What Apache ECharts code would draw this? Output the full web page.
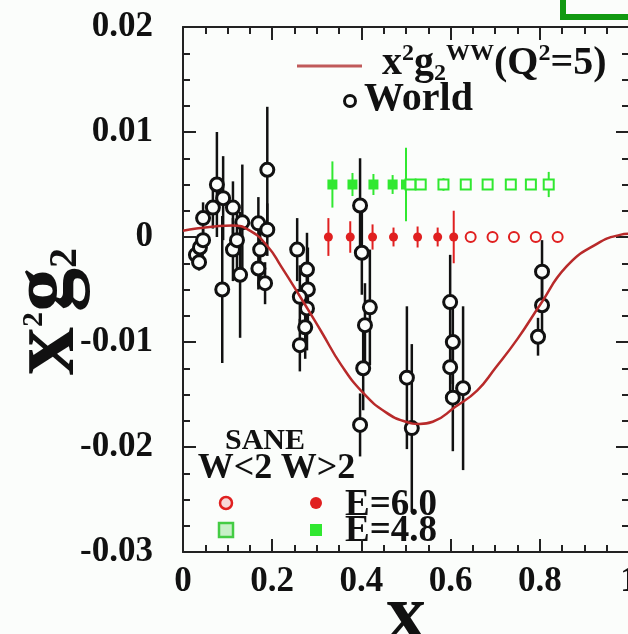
<!DOCTYPE html>
<html>
<head>
<meta charset="utf-8">
<script src="https://cdn.jsdelivr.net/npm/echarts@6/dist/echarts.min.js"></script>
<style>
  html, body { margin: 0; padding: 0; background: #fbfdfb; }
  #chart { width: 628px; height: 634px; }
</style>
</head>
<body>
<div id="chart"></div>
<script>
// World data: x, x^2 g2, error
const worldX = [0.029, 0.036, 0.038, 0.045, 0.045, 0.067, 0.076, 0.090, 0.088, 0.112, 0.112, 0.121, 0.128, 0.133, 0.169, 0.173, 0.169, 0.184, 0.189, 0.189,
  0.256, 0.278, 0.280, 0.262, 0.278, 0.274, 0.262,
  0.397, 0.401, 0.419, 0.408, 0.404, 0.397, 0.502, 0.513,
  0.599, 0.605, 0.599, 0.628, 0.605,
  0.805, 0.805, 0.796];
const worldY = [-0.0017, -0.0024, -0.0010, -0.0003, 0.0018, 0.0028, 0.0050, 0.0037, -0.0050, 0.0028, -0.0012, -0.0003, -0.0036, 0.0014, 0.0013, -0.0012, -0.0030, -0.0044, 0.0007, 0.0064,
  -0.0012, -0.0031, -0.0050, -0.0057, -0.0068, -0.0086, -0.0103,
  0.0030, -0.0015, -0.0067, -0.0084, -0.0125, -0.0179, -0.0134, -0.0182,
  -0.0062, -0.0100, -0.0124, -0.0144, -0.0153,
  -0.0033, -0.0065, -0.0095];
const worldErr = [0.0008, 0.0008, 0.0010, 0.0012, 0.0015, 0.0020, 0.0050, 0.0040, 0.0070, 0.0025, 0.0030, 0.0030, 0.0060, 0.0055, 0.0025, 0.0030, 0.0020, 0.0020, 0.0025, 0.0060,
  0.0030, 0.0035, 0.0040, 0.0030, 0.0040, 0.0030, 0.0025,
  0.0045, 0.0040, 0.0055, 0.0040, 0.0040, 0.0030, 0.0068, 0.0080,
  0.0045, 0.0040, 0.0030, 0.0078, 0.0051,
  0.0030, 0.0035, 0.0018];

// x^2 g2^WW (Q^2 = 5)
const curveX = [0, 0.03, 0.07, 0.11, 0.15, 0.19, 0.22, 0.26, 0.31, 0.355, 0.405, 0.455, 0.50, 0.53, 0.56, 0.61, 0.66, 0.70, 0.75, 0.80, 0.86, 0.93, 0.98, 1.0];
const curveY = [0.0006, 0.0008, 0.0010, 0.0011, 0.0006, -0.0009, -0.0028, -0.0055, -0.0090, -0.0122, -0.0149, -0.0167, -0.0176, -0.0178, -0.0176, -0.0162, -0.0146, -0.0125, -0.0097, -0.0065, -0.0028, -0.0006, 0.0002, 0.0003];

// SANE projections
const sane60HighX = [0.326, 0.375, 0.425, 0.472, 0.526, 0.571, 0.607];
const sane60HighErr = [0.0018, 0.0015, 0.0012, 0.0009, 0.0010, 0.0009, 0.0025];
const sane60LowX = [0.645, 0.694, 0.742, 0.791, 0.840];
const sane60LowErr = [0.0003, 0.0003, 0.0003, 0.0003, 0.0003];
const sane48HighX = [0.335, 0.380, 0.427, 0.470, 0.500];
const sane48HighErr = [0.0022, 0.0011, 0.0010, 0.0009, 0.0035];
const sane48LowX = [0.510, 0.533, 0.584, 0.634, 0.683, 0.735, 0.780, 0.820];
const sane48LowErr = [0.0005, 0.0004, 0.0006, 0.0003, 0.0003, 0.0003, 0.0003, 0.0012];
const sane60Y = 0;
const sane48Y = 0.005;

const serif = '"Liberation Serif", "DejaVu Serif", serif';
const bg = '#fbfdfb';
const red = '#e02020';
const green = '#30e830';

const chart = echarts.init(document.getElementById('chart'));

function errBars(xs, ys, es, color, width) {
  return {
    type: 'custom',
    data: xs.map((x, i) => [x, Array.isArray(ys) ? ys[i] : ys, es[i]]),
    renderItem: (params, api) => {
      const x = api.value(0), y = api.value(1), e = api.value(2);
      const p1 = api.coord([x, y - e]);
      const p2 = api.coord([x, y + e]);
      return {
        type: 'line',
        shape: { x1: p1[0], y1: p1[1], x2: p2[0], y2: p2[1] },
        style: { stroke: color, lineWidth: width }
      };
    },
    z: 2,
    silent: true
  };
}

function pts(xs, y, symbol, size, fill, stroke, bw) {
  return {
    type: 'scatter',
    data: xs.map((x, i) => [x, Array.isArray(y) ? y[i] : y]),
    symbol: symbol,
    symbolSize: size,
    itemStyle: { color: fill, borderColor: stroke, borderWidth: bw, opacity: 1 },
    z: 4,
    silent: true
  };
}

const tickLabel = { fontFamily: serif, fontWeight: 'bold', fontSize: 35, color: '#111' };
const axisLine = { onZero: false, lineStyle: { color: '#222', width: 2 } };
const tick = { inside: true, length: 13, lineStyle: { color: '#222', width: 2 } };
const minor = { show: true, splitNumber: 4, length: 7, lineStyle: { color: '#222', width: 2 } };

const option = {
  backgroundColor: bg,
  animation: false,
  grid: { left: 183, top: 27, width: 446, height: 525, outerBoundsMode: 'none', containLabel: false },
  xAxis: [
    {
      type: 'value', min: 0, max: 1, interval: 0.2,
      axisLine: axisLine, axisTick: tick, minorTick: minor,
      splitLine: { show: false },
      axisLabel: Object.assign({ margin: 12, formatter: v => String(+v.toFixed(1)) }, tickLabel),
      name: 'x',
      nameLocation: 'middle',
      nameGap: 26,
      nameMoveOverlap: false,
      nameTextStyle: { fontFamily: serif, fontWeight: 'bold', fontSize: 80, color: '#111' }
    },
    {
      type: 'value', min: 0, max: 1, interval: 0.2, position: 'top',
      axisLine: axisLine, axisTick: tick, minorTick: minor,
      splitLine: { show: false },
      axisLabel: { show: false }
    }
  ],
  yAxis: [
    {
      type: 'value', min: -0.03, max: 0.02, interval: 0.01,
      axisLine: axisLine, axisTick: tick, minorTick: minor,
      splitLine: { show: false },
      axisLabel: Object.assign({ margin: 30, formatter: v => String(+v.toFixed(2)) }, tickLabel),
      name: '{b|x}{sup|2}{g|g}{sub|2}',
      nameLocation: 'middle',
      nameRotate: 90,
      nameGap: 85,
      nameMoveOverlap: false,
      nameTextStyle: {
        padding: [0, 44, 0, 0],
        rich: {
          b: { fontFamily: serif, fontWeight: 'bold', fontSize: 96, color: '#111', lineHeight: 100 },
          g: { fontFamily: serif, fontWeight: 'bold', fontSize: 88, color: '#111', lineHeight: 100 },
          sup: { fontFamily: serif, fontWeight: 'bold', fontSize: 30, color: '#111', verticalAlign: 'top', lineHeight: 30, padding: [21, 0, 0, 0] },
          sub: { fontFamily: serif, fontWeight: 'bold', fontSize: 40, color: '#111', verticalAlign: 'bottom', lineHeight: 40, padding: [0, 0, 12, 0] }
        }
      }
    },
    {
      type: 'value', min: -0.03, max: 0.02, interval: 0.01, position: 'right',
      axisLine: axisLine, axisTick: tick, minorTick: minor,
      splitLine: { show: false },
      axisLabel: { show: false }
    }
  ],
  series: [
    errBars(worldX, worldY, worldErr, '#111', 2.5),
    pts(worldX, worldY, 'circle', 13, bg, '#111', 3),
    {
      type: 'line',
      data: curveX.map((x, i) => [x, curveY[i]]),
      smooth: true,
      showSymbol: false,
      lineStyle: { color: '#b82a2a', width: 2.5 },
      z: 5,
      silent: true
    },
    errBars(sane48HighX, sane48Y, sane48HighErr, green, 2),
    errBars(sane48LowX, sane48Y, sane48LowErr, green, 2),
    errBars(sane60HighX, sane60Y, sane60HighErr, red, 2),
    errBars(sane60LowX, sane60Y, sane60LowErr, red, 2),
    pts(sane48HighX, sane48Y, 'rect', 10, green, green, 0),
    pts(sane48LowX, sane48Y, 'rect', 10, bg, green, 2),
    pts(sane60HighX, sane60Y, 'circle', 9, red, red, 0),
    pts(sane60LowX, sane60Y, 'circle', 10, bg, red, 2)
  ],
  graphic: [
    // green frame corner at top right
    { type: 'rect', shape: { x: 563, y: -20, width: 90, height: 37 }, style: { fill: null, stroke: '#119911', lineWidth: 6 } },
    // curve legend
    { type: 'line', shape: { x1: 297, y1: 66, x2: 362, y2: 66 }, style: { stroke: '#c05a5a', lineWidth: 3 } },
    {
      type: 'text', x: 382, y: 64,
      style: {
        text: '{b|x}{sup|2}{b|g}{sub|2}{ww|WW}{b|(Q}{sup|2}{b|=5)}',
        verticalAlign: 'middle',
        rich: {
          b: { fontFamily: serif, fontWeight: 'bold', fontSize: 40, fill: '#111', lineHeight: 44 },
          sup: { fontFamily: serif, fontWeight: 'bold', fontSize: 24, fill: '#111', verticalAlign: 'top', lineHeight: 44, padding: [0, 0, 14, 0] },
          sub: { fontFamily: serif, fontWeight: 'bold', fontSize: 24, fill: '#111', verticalAlign: 'bottom', lineHeight: 44, padding: [12, 0, 0, 0] },
          ww: { fontFamily: serif, fontWeight: 'bold', fontSize: 24, fill: '#111', verticalAlign: 'top', lineHeight: 44, padding: [0, 0, 8, 0] }
        }
      }
    },
    { type: 'circle', shape: { cx: 350, cy: 101, r: 5.5 }, style: { fill: bg, stroke: '#111', lineWidth: 3 } },
    { type: 'text', x: 364, y: 100, style: { text: 'World', fontFamily: serif, fontWeight: 'bold', fontSize: 40, fill: '#111', verticalAlign: 'middle' } },
    // SANE legend
    { type: 'text', x: 265, y: 441, style: { text: 'SANE', fontFamily: serif, fontWeight: 'bold', fontSize: 30, fill: '#111', align: 'center', verticalAlign: 'middle' } },
    { type: 'text', x: 235, y: 469, style: { text: 'W<2', fontFamily: serif, fontWeight: 'bold', fontSize: 36, fill: '#111', align: 'center', verticalAlign: 'middle' } },
    { type: 'text', x: 318, y: 469, style: { text: 'W>2', fontFamily: serif, fontWeight: 'bold', fontSize: 36, fill: '#111', align: 'center', verticalAlign: 'middle' } },
    { type: 'circle', shape: { cx: 226, cy: 503, r: 6 }, style: { fill: '#f8d8d8', stroke: red, lineWidth: 2.5 } },
    { type: 'circle', shape: { cx: 316, cy: 503, r: 6 }, style: { fill: red } },
    { type: 'text', x: 345, y: 505, style: { text: 'E=6.0', fontFamily: serif, fontWeight: 'bold', fontSize: 37, fill: '#111', verticalAlign: 'middle' } },
    { type: 'rect', shape: { x: 219, y: 523, width: 14, height: 14 }, style: { fill: '#c8f0c8', stroke: '#44cc44', lineWidth: 2.5 } },
    { type: 'rect', shape: { x: 310, y: 524, width: 12, height: 12 }, style: { fill: green } },
    { type: 'text', x: 345, y: 531, style: { text: 'E=4.8', fontFamily: serif, fontWeight: 'bold', fontSize: 37, fill: '#111', verticalAlign: 'middle' } }
  ]
};

chart.setOption(option);
</script>
</body>
</html>
